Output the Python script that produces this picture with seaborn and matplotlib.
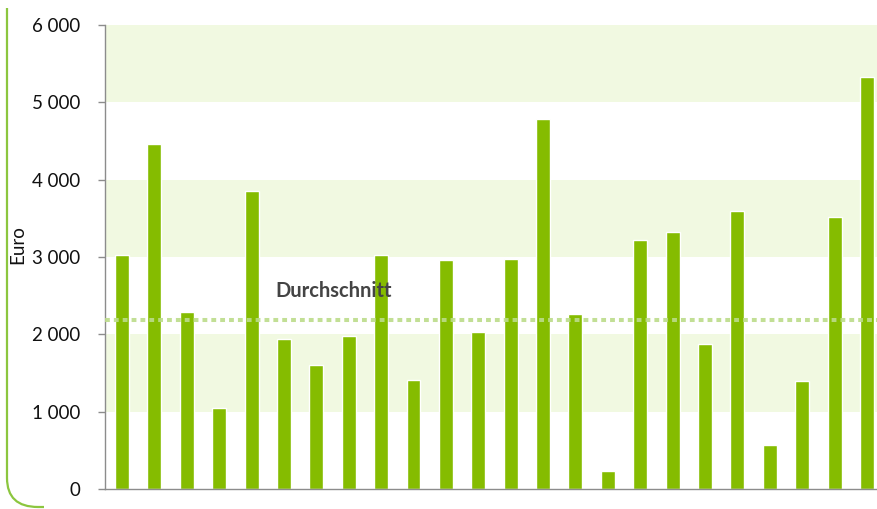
import matplotlib
matplotlib.use("Agg")
import matplotlib.pyplot as plt
import matplotlib.patches as mpatches
from matplotlib.path import Path
import numpy as np
import pandas as pd
import seaborn as sns

# Values per entry (Euro) and the reference average
entries = [str(i) for i in range(1, 25)]
euro = [3020, 4460, 2290, 1050, 3850, 1940, 1600, 1980, 3030, 1410, 2960, 2030,
        2980, 4780, 2260, 230, 3220, 3320, 1870, 3590, 570, 1400, 3520, 5330]
average = 2180
average_label = "Durchschnitt"
y_ticks = [0, 1000, 2000, 3000, 4000, 5000, 6000]
y_ticklabels = ["0", "1 000", "2 000", "3 000", "4 000", "5 000", "6 000"]
y_label = "Euro"

BAR = "#85bc00"
BAND = "#f1f9e1"
ACCENT = "#8cc63f"
AXIS = "#8c8c8c"

sns.set_theme(style="white")
plt.rcParams["font.family"] = ["Lato", "DejaVu Sans"]

df = pd.DataFrame({"entry": entries, "euro": euro})

W, H = 877, 509
fig = plt.figure(figsize=(W / 100, H / 100), dpi=100)
ax = fig.add_axes([105 / W, 20 / H, (877 - 105) / W, (489 - 25) / H])

# alternating light bands behind the bars
for lo in (1000, 3000, 5000):
    ax.axhspan(lo, lo + 1000, color=BAND, lw=0, zorder=0)

sns.barplot(data=df, x="entry", y="euro", color=BAR, saturation=1,
            width=0.43, ax=ax, zorder=2)

# average line with label
ax.axhline(average, color="#bcdc8a", lw=2.9, linestyle=(0, (1.2, 1.0)),
           dash_capstyle="butt", zorder=3, alpha=0.9)
ax.text(4.72, average + 380, average_label, fontsize=14.5, fontweight="bold",
        color="#444444", ha="left", va="center", zorder=4)

ax.set_xlim(-0.525, 23.31)
ax.set_ylim(0, 6000)
ax.set_yticks(y_ticks)
ax.set_yticklabels(y_ticklabels, fontsize=13.5, color="#111111")
ax.set_xticks([])
ax.set_xlabel("")
ax.set_ylabel("")
ax.tick_params(axis="y", which="both", left=True, length=5, width=1,
               color=AXIS, pad=13, direction="out")

for side in ("top", "right"):
    ax.spines[side].set_visible(False)
for side in ("left", "bottom"):
    ax.spines[side].set_visible(True)
    ax.spines[side].set_color(AXIS)
    ax.spines[side].set_linewidth(1)

fig.text(18 / W, 1 - 245 / H, y_label, rotation=90, fontsize=13.5,
         color="#111111", ha="center", va="center")

# rounded bracket along the left edge
def fp(x, y):
    return (x / W, 1 - y / H)

verts = [fp(7, 8), fp(7, 478), fp(7, 507), fp(38, 507), fp(44, 507)]
codes = [Path.MOVETO, Path.LINETO, Path.CURVE3, Path.CURVE3, Path.LINETO]
fig.patches.append(mpatches.PathPatch(Path(verts, codes), fill=False,
                                      edgecolor=ACCENT, lw=1.6,
                                      transform=fig.transFigure))

fig.savefig("out.png", dpi=100)
